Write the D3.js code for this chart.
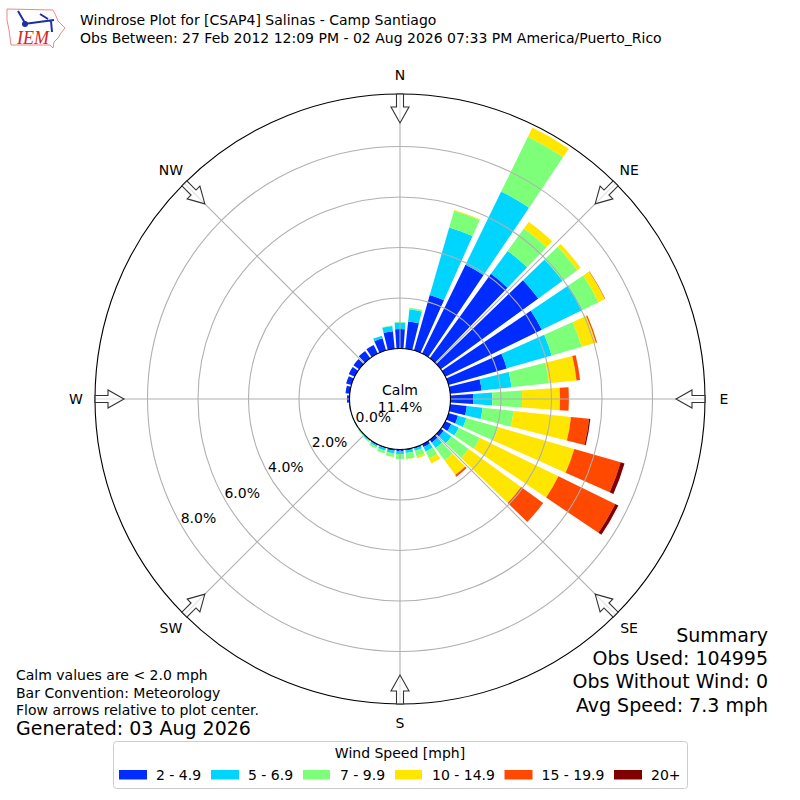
<!DOCTYPE html>
<html>
<head>
<meta charset="utf-8">
<script src="https://cdn.jsdelivr.net/npm/d3@7"></script>
<style>
body { margin: 0; background: #fff; }
text { font-family: "DejaVu Sans", sans-serif; fill: #000; }
</style>
</head>
<body>
<div id="chart"></div>
<script>
const directions = d3.range(0, 360, 10);
const speedLabels = ["2 - 4.9", "5 - 6.9", "7 - 9.9", "10 - 14.9", "15 - 19.9", "20+"];
const speedColors = ["#002cff", "#00d5ff", "#7dff7a", "#ffe600", "#ff4800", "#800000"];

// percent of obs per direction, one list per speed bin
const speed2to5 = [.77,1.09,2.28,3.92,4.13,4.77,4.25,2.4,1.25,.9,.66,.39,.26,.14,.14,.12,.05,.05,.06,.06,.04,.04,.03,.02,.02,.01,.03,.1,.17,.22,.26,.28,.35,.38,.5,.7];
const speed5to7 = [.26,.48,2.79,3.22,1.12,1.19,1.79,1.85,1.19,.76,.63,.34,.33,.38,.26,.2,.08,.1,.12,.1,.08,.06,.03,.02,.01,.01,.01,0,0,0,0,0,0,0,.11,.21];
const speed7to10 = [.03,.06,.69,2.42,1.1,.72,.71,1.24,1.49,1.18,1.23,1.31,.94,.85,.6,.31,.24,.24,.2,.15,.12,.08,.04,.02,.01,.01,0,0,0,0,0,0,0,0,0,.02];
const speed10to15 = [0,0,.03,.4,.33,.16,.28,.58,1.1,1.5,2.29,3.14,3.45,2.56,.72,.21,.08,.01,0,.01,0,0,0,0,0,0,0,0,0,0,0,0,0,0,0,0];
const speed15to20 = [0,0,0,0,0,0,.02,.05,.14,.35,.72,1.91,2.5,1.08,.08,0,0,0,0,0,0,0,0,0,0,0,0,0,0,0,0,0,0,0,0,0];
const speed20up = [0,0,0,0,0,0,0,0,0,0,.05,.16,.14,0,0,0,0,0,0,0,0,0,0,0,0,0,0,0,0,0,0,0,0,0,0,0];
const speedSeries = [speed2to5, speed5to7, speed7to10, speed10to15, speed15to20, speed20up];

const compassLabels = ["N", "NE", "E", "SE", "S", "SW", "W", "NW"];
const ringTicks = [0, 2, 4, 6, 8];

const cx = 400, cy = 399;
const rad = (deg) => (deg * Math.PI) / 180;
const polar = (deg, r) => [r * Math.sin(rad(deg)), -r * Math.cos(rad(deg))];

const svg = d3.select("#chart").append("svg").attr("width", 800).attr("height", 800);

// header
const logo = svg.append("g").attr("id", "logo");
logo.append("path")
    .attr("d", "M7,9 L53,10 L56,16 L58,21 L65,28 L61,33 L58,38 L54,42 L53,48 L50,45 L11,45 L9,30 L7,20 Z")
    .attr("fill", "none").attr("stroke", "#e88").attr("stroke-width", 1);
logo.append("path")
    .attr("d", "M18,11 L25,23 M24,24 L54,20 M40,14 L48,19 M51,21 L52,32")
    .attr("fill", "none").attr("stroke", "#1c2fa8").attr("stroke-width", 2);
logo.append("circle").attr("cx", 25).attr("cy", 24).attr("r", 3).attr("fill", "#1c2fa8");
logo.append("text").attr("x", 17).attr("y", 44).attr("font-size", 18)
    .style("font-family", "'Liberation Serif', serif").style("font-style", "italic").style("fill", "#d22")
    .text("IEM");

svg.append("text").attr("x", 80).attr("y", 25).attr("font-size", 14)
    .text("Windrose Plot for [CSAP4] Salinas - Camp Santiago");
svg.append("text").attr("x", 80).attr("y", 43).attr("font-size", 14)
    .text("Obs Between: 27 Feb 2012 12:09 PM - 02 Aug 2026 07:33 PM America/Puerto_Rico");

const rose = svg.append("g").attr("transform", `translate(${cx},${cy})`);

const rScale = d3.scaleLinear().domain([0, 8]).range([50.5, 252.5]);
const outerR = 305;

const color = d3.scaleOrdinal().domain(speedLabels).range(speedColors);

const rows = directions.map((dir, i) => {
    const row = { dir };
    speedLabels.forEach((s, j) => { row[s] = speedSeries[j][i]; });
    return row;
});
const stacked = d3.stack().keys(speedLabels)(rows);

const arc = d3.arc();
rose.selectAll("g.bin")
    .data(stacked)
    .enter()
    .append("g")
    .attr("class", "bin")
    .attr("fill", (d) => color(d.key))
    .selectAll("path")
    .data((d) => d.filter((p) => p[1] > p[0]))
    .enter()
    .append("path")
    .attr("d", (d) => arc({
        innerRadius: rScale(d[0]),
        outerRadius: rScale(d[1]),
        startAngle: rad(d.data.dir - 4),
        endAngle: rad(d.data.dir + 4),
    }));

// grid goes over the bars
const grid = "#b0b0b0";
rose.selectAll("circle.ring")
    .data(ringTicks.slice(1))
    .enter()
    .append("circle")
    .attr("class", "ring")
    .attr("r", (d) => rScale(d))
    .attr("fill", "none")
    .attr("stroke", grid)
    .attr("stroke-width", 1.1);

rose.selectAll("line.spoke")
    .data(compassLabels)
    .enter()
    .append("line")
    .attr("class", "spoke")
    .attr("x1", (d, i) => polar(i * 45, rScale(0))[0])
    .attr("y1", (d, i) => polar(i * 45, rScale(0))[1])
    .attr("x2", (d, i) => polar(i * 45, outerR)[0])
    .attr("y2", (d, i) => polar(i * 45, outerR)[1])
    .attr("stroke", grid)
    .attr("stroke-width", 1.1);

rose.append("circle").attr("r", rScale(0)).attr("fill", "none").attr("stroke", "#000").attr("stroke-width", 1.1);
rose.append("circle").attr("r", outerR).attr("fill", "none").attr("stroke", "#000").attr("stroke-width", 1.1);

// flow arrows, tail on the rim and tip pointing to the center
const arrowShape = [[-3.5, -305], [3.5, -305], [3.5, -292], [9, -292], [0, -276], [-9, -292], [-3.5, -292]];
rose.selectAll("polygon.arrow")
    .data(compassLabels)
    .enter()
    .append("polygon")
    .attr("class", "arrow")
    .attr("points", arrowShape.map((p) => p.join(",")).join(" "))
    .attr("transform", (d, i) => `rotate(${i * 45})`)
    .attr("fill", "#fff")
    .attr("fill-opacity", 0.6)
    .attr("stroke", "#333")
    .attr("stroke-width", 1.1);

rose.selectAll("text.compass")
    .data(compassLabels)
    .enter()
    .append("text")
    .attr("class", "compass")
    .attr("x", (d, i) => polar(i * 45, 324)[0])
    .attr("y", (d, i) => polar(i * 45, 324)[1])
    .attr("dy", "0.36em")
    .attr("text-anchor", "middle")
    .attr("font-size", 14)
    .text((d) => d);

rose.selectAll("text.rlabel")
    .data(ringTicks)
    .enter()
    .append("text")
    .attr("class", "rlabel")
    .attr("x", (d) => polar(240, rScale(d) - 18)[0] + 1.5)
    .attr("y", (d) => polar(240, rScale(d) - 18)[1] + 1.5)
    .attr("dy", "0.36em")
    .attr("text-anchor", "middle")
    .attr("font-size", 14)
    .text((d) => d3.format(".1f")(d) + "%");

rose.append("text").attr("y", -4).attr("text-anchor", "middle").attr("font-size", 14).text("Calm");
rose.append("text").attr("y", 13).attr("text-anchor", "middle").attr("font-size", 14).text("11.4%");

// notes
const notes = ["Calm values are < 2.0 mph", "Bar Convention: Meteorology", "Flow arrows relative to plot center."];
svg.selectAll("text.note")
    .data(notes)
    .enter()
    .append("text")
    .attr("class", "note")
    .attr("x", 16)
    .attr("y", (d, i) => 680 + i * 17.5)
    .attr("font-size", 14)
    .text((d) => d);
svg.append("text").attr("x", 16).attr("y", 735).attr("font-size", 19).text("Generated: 03 Aug 2026");

const summary = ["Summary", "Obs Used: 104995", "Obs Without Wind: 0", "Avg Speed: 7.3 mph"];
svg.selectAll("text.summary")
    .data(summary)
    .enter()
    .append("text")
    .attr("class", "summary")
    .attr("x", 768)
    .attr("y", (d, i) => 642 + i * 23.2)
    .attr("text-anchor", "end")
    .attr("font-size", 19)
    .text((d) => d);

// legend
const legend = svg.append("g").attr("id", "legend");
legend.append("rect").attr("x", 113.5).attr("y", 741.5).attr("width", 574).attr("height", 47).attr("rx", 3)
    .attr("fill", "#fff").attr("stroke", "#ccc");
legend.append("text").attr("x", 400).attr("y", 758).attr("text-anchor", "middle").attr("font-size", 14)
    .text("Wind Speed [mph]");
const swatchX = [119, 211, 303, 395, 504.5, 614];
const item = legend.selectAll("g.item")
    .data(speedLabels)
    .enter()
    .append("g")
    .attr("class", "item")
    .attr("transform", (d, i) => `translate(${swatchX[i]},770)`);
item.append("rect").attr("width", (d, i) => (i === 2 || i === 3 ? 27 : 28)).attr("height", 9.5).attr("fill", (d) => color(d));
item.append("text").attr("x", 37).attr("y", 9.5).attr("font-size", 14).text((d) => d);
</script>
</body>
</html>
